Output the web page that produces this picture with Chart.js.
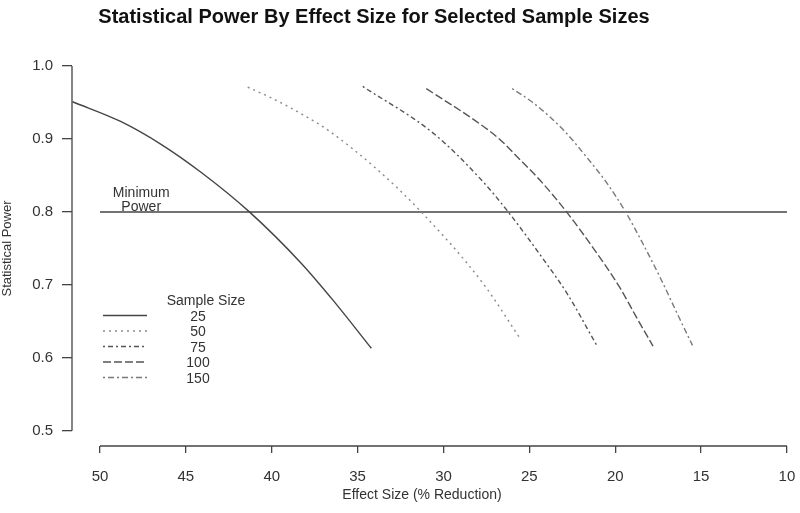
<!DOCTYPE html>
<html>
<head>
<meta charset="utf-8">
<script src="https://cdn.jsdelivr.net/npm/chart.js@4.4.1/dist/chart.umd.min.js"></script>
<style>
  html, body { margin: 0; padding: 0; background: #fff; }
</style>
</head>
<body>
<canvas id="powerChart" width="800" height="513"></canvas>
<script>
// values
const sampleSizes = ["25", "50", "75", "100", "150"];
const effect25 = [51.6, 48.8, 46.4, 44.1, 41.3, 38.3, 36.4, 34.2];
const power25 = [0.951, 0.924, 0.892, 0.854, 0.800, 0.730, 0.678, 0.613];
const effect50 = [41.4, 40.0, 37.8, 36.6, 33.9, 31.3, 27.7, 25.5];
const power50 = [0.971, 0.956, 0.928, 0.910, 0.859, 0.800, 0.702, 0.625];
const effect75 = [34.7, 30.6, 27.8, 26.3, 24.0, 22.8, 21.1];
const power75 = [0.972, 0.908, 0.844, 0.802, 0.729, 0.688, 0.618];
const effect100 = [31.0, 27.9, 26.7, 25.6, 24.4, 22.8, 21.3, 19.7, 18.8, 17.8];
const power100 = [0.969, 0.921, 0.899, 0.873, 0.844, 0.799, 0.751, 0.695, 0.657, 0.616];
const effect150 = [26.0, 24.8, 23.0, 21.7, 20.5, 19.4, 18.4, 17.3, 16.4, 15.5];
const power150 = [0.969, 0.950, 0.912, 0.876, 0.840, 0.800, 0.757, 0.706, 0.661, 0.617];

const minPowerEffect = [50, 10];
const minPower = 0.8;

const xTicks = [50, 45, 40, 35, 30, 25, 20, 15, 10];
const yTicks = [0.5, 0.6, 0.7, 0.8, 0.9, 1.0];

const FONT = "'Liberation Sans', Arial, sans-serif";

function pts(xs, ys) {
  return xs.map((v, i) => ({ x: v, y: ys[i] }));
}

const curveStyles = [
  { color: "#444", dash: [] },
  { color: "#8a8a8a", dash: [2, 4] },
  { color: "#555", dash: [2, 3, 5, 3] },
  { color: "#555", dash: [8, 3] },
  { color: "#7a7a7a", dash: [2, 3, 6, 3] },
];
const curveData = [
  pts(effect25, power25),
  pts(effect50, power50),
  pts(effect75, power75),
  pts(effect100, power100),
  pts(effect150, power150),
];

const datasets = curveData.map((d, i) => ({
  label: sampleSizes[i],
  data: d,
  borderColor: curveStyles[i].color,
  borderDash: curveStyles[i].dash,
  borderWidth: 1.4,
  pointRadius: 0,
  cubicInterpolationMode: "monotone",
  fill: false,
}));
datasets.push({
  label: "Minimum Power",
  data: minPowerEffect.map(v => ({ x: v, y: minPower })),
  borderColor: "#444",
  borderWidth: 1.5,
  pointRadius: 0,
  fill: false,
});

// R-style detached axes, title, note and legend
const extras = {
  id: "extras",
  beforeDatasetsDraw(chart) {
    const { ctx, chartArea, scales: { x, y } } = chart;
    ctx.save();
    ctx.strokeStyle = "#444";
    ctx.lineWidth = 1.3;
    ctx.beginPath();
    ctx.moveTo(chartArea.left, y.getPixelForValue(yTicks[yTicks.length - 1]));
    ctx.lineTo(chartArea.left, y.getPixelForValue(yTicks[0]));
    ctx.moveTo(x.getPixelForValue(xTicks[0]), chartArea.bottom);
    ctx.lineTo(x.getPixelForValue(xTicks[xTicks.length - 1]), chartArea.bottom);
    ctx.stroke();
    ctx.restore();
  },
  afterDraw(chart) {
    const { ctx, scales: { x, y } } = chart;
    ctx.save();
    ctx.fillStyle = "#111";
    ctx.textAlign = "center";
    ctx.textBaseline = "middle";
    ctx.font = "bold 20px " + FONT;
    ctx.fillText("Statistical Power By Effect Size for Selected Sample Sizes", 374, 17);

    ctx.fillStyle = "#333";
    ctx.font = "14px " + FONT;
    ctx.fillText("Effect Size (% Reduction)", 422, 495);

    // note above the 0.8 line
    const nx = x.getPixelForValue(47.6);
    const ny = y.getPixelForValue(minPower);
    ctx.fillText("Minimum", nx, ny - 19);
    ctx.fillText("Power", nx, ny - 5);

    // legend
    ctx.fillText("Sample Size", 206, 301);
    sampleSizes.forEach((s, i) => {
      const ly = 317 + i * 15.5;
      ctx.strokeStyle = curveStyles[i].color;
      ctx.lineWidth = 1.4;
      ctx.setLineDash(curveStyles[i].dash);
      ctx.beginPath();
      ctx.moveTo(103, ly - 1.5);
      ctx.lineTo(147, ly - 1.5);
      ctx.stroke();
      ctx.fillText(s, 198, ly);
    });
    ctx.restore();
  },
};

new Chart(document.getElementById("powerChart"), {
  type: "line",
  data: { datasets: datasets },
  plugins: [extras],
  options: {
    responsive: false,
    animation: false,
    layout: { padding: { left: 0, top: 51, right: 6, bottom: 0 } },
    plugins: { legend: { display: false }, tooltip: { enabled: false } },
    scales: {
      x: {
        type: "linear",
        reverse: true,
        min: 9.59,
        max: 51.63,
        afterBuildTicks: s => { s.ticks = xTicks.map(v => ({ value: v })); },
        afterFit: s => { s.height = 67; s.paddingLeft = 0; s.paddingRight = 0; },
        border: { display: false },
        grid: { drawOnChartArea: false, drawTicks: true, tickLength: 7, color: "#444", lineWidth: 1.3 },
        ticks: { color: "#333", padding: 15, font: { family: FONT, size: 15 }, maxRotation: 0 },
      },
      y: {
        min: 0.479,
        max: 1.0206,
        afterBuildTicks: s => { s.ticks = yTicks.map(v => ({ value: v })); },
        afterFit: s => { s.width = 72; s.paddingTop = 0; s.paddingBottom = 0; },
        border: { display: false },
        grid: { drawOnChartArea: false, drawTicks: true, tickLength: 10, color: "#444", lineWidth: 1.3 },
        ticks: { color: "#333", padding: 9, font: { family: FONT, size: 15 }, callback: v => v.toFixed(1) },
        title: { display: true, text: "Statistical Power", color: "#333", font: { family: FONT, size: 13 }, padding: { top: 0, bottom: 0 } },
      },
    },
  },
});
</script>
</body>
</html>
